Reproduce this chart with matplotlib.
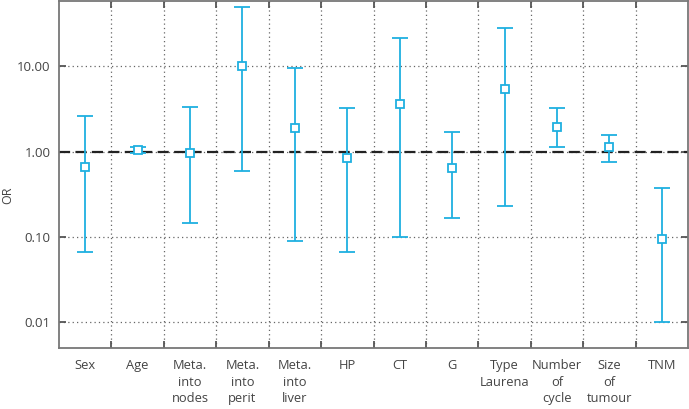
import numpy as np
import matplotlib
matplotlib.use('Agg')
import matplotlib.pyplot as plt
from matplotlib.ticker import FixedLocator, NullFormatter

# DATA
labels = ["Sex", "Age", "Meta.\ninto\nnodes", "Meta.\ninto\nperit", "Meta.\ninto\nliver",
          "HP", "CT", "G", "Type\nLaurena", "Number\nof\ncycle", "Size\nof\ntumour", "TNM"]
odds = [0.66, 1.055, 0.97, 10.0, 1.88, 0.85, 3.59, 0.64, 5.37, 1.95, 1.12, 0.095]
ci_low = [0.066, 0.97, 0.144, 0.59, 0.09, 0.066, 0.099, 0.165, 0.229, 1.14, 0.75, 0.01]
ci_high = [2.64, 1.14, 3.37, 50.0, 9.5, 3.25, 21.7, 1.68, 28.4, 3.25, 1.55, 0.375]
yticks = [0.01, 0.1, 1, 10]

plt.rcParams['font.family'] = ['Open Sans', 'DejaVu Sans']

blue = '#1fb0e0'
grey = '#777777'

fig = plt.figure(figsize=(6.89, 4.09), dpi=100)
ax = fig.add_axes([59 / 689, 61 / 409, 629 / 689, 347.5 / 409])

x = np.arange(len(labels))
odds = np.array(odds)
err = [odds - np.array(ci_low), np.array(ci_high) - odds]

ax.set_yscale('log')
ax.set_ylim(0.00495, 59.4)
ax.set_xlim(-0.5, len(labels) - 0.5)

ax.axhline(1, color='#222222', lw=1.6, ls=(0, (5, 2.4)), zorder=2)

ax.errorbar(x, odds, yerr=err, fmt='s', color=blue, ecolor=blue, elinewidth=1.3,
            capsize=5.5, capthick=1.8, markersize=5.5, markerfacecolor='white',
            markeredgecolor=blue, markeredgewidth=1.3, zorder=3)

# category labels, boundary ticks + grid
ax.set_xticks(x)
ax.set_xticklabels(labels, fontsize=9.3, color='#444444', linespacing=1.35)
ax.tick_params(axis='x', which='major', length=0, pad=8)
ax.xaxis.set_minor_locator(FixedLocator(x[:-1] + 0.5))
ax.xaxis.set_minor_formatter(NullFormatter())
ax.tick_params(axis='x', which='minor', direction='in', length=5, width=1.3,
               color='#555555', top=True, bottom=True)
ax.grid(True, axis='x', which='minor', ls=(0, (1, 2.5)), color='#666666', lw=0.9)

ax.yaxis.set_major_locator(FixedLocator(yticks))
ax.set_yticklabels([f"{t:.2f}" for t in yticks], fontsize=9.5, color='#444444')
ax.yaxis.set_minor_locator(FixedLocator([]))
ax.tick_params(axis='y', which='major', direction='in', length=5, width=1.3,
               color='#555555', left=True, right=True, pad=6)
ax.grid(True, axis='y', which='major', ls=(0, (1, 2.5)), color='#666666', lw=0.9)

for s in ax.spines.values():
    s.set_color(grey)
    s.set_linewidth(1.3)

# y label sits low and close to the left edge
fig.text(8 / 689, 1 - 195 / 409, 'OR', rotation=90, ha='center', va='center',
         fontsize=9, color='#444444')

fig.savefig('out.png', dpi=100)
